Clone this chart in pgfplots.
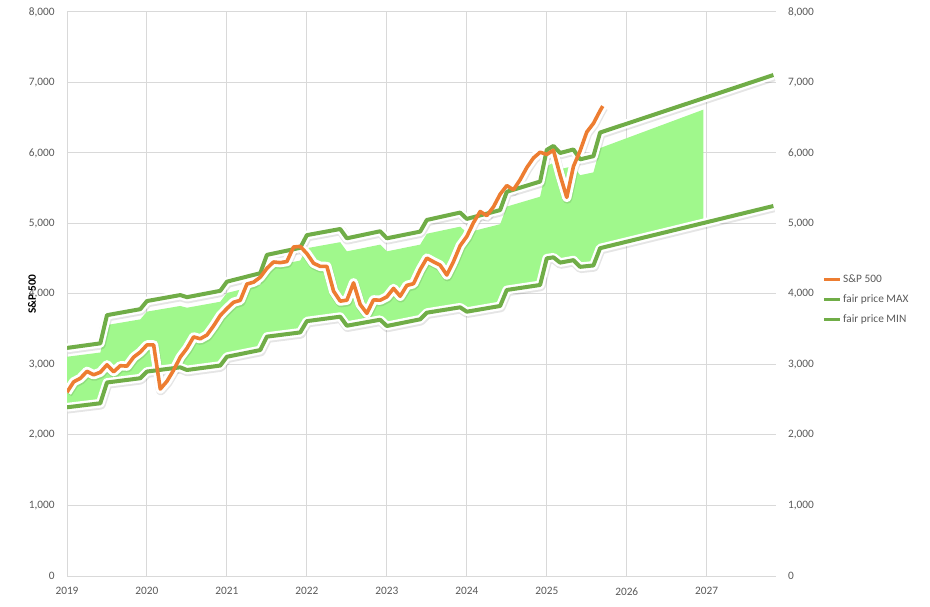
\documentclass[border=0pt]{standalone}
\usepackage{fontspec}
\setmainfont{Carlito}
\usepackage{pgfplots}
\usepackage{pgfplotstable}
\pgfplotsset{compat=1.18}
\usepgfplotslibrary{fillbetween}
\definecolor{spx}{HTML}{ED7D31}
\definecolor{fpg}{HTML}{70AD47}
\definecolor{band}{RGB}{160,248,140}
\definecolor{gridc}{HTML}{D9D9D9}
\definecolor{tickc}{HTML}{595959}

% S&P 500 monthly (month index from Jan 2019)
\pgfplotstableread{
m v
0 2607
1 2754
2 2804
3 2903
4 2854
5 2890
6 2996
7 2897
8 2983
9 2977
10 3104
11 3176
12 3278
13 3278
14 2652
15 2762
16 2920
17 3105
18 3230
19 3391
20 3365
21 3418
22 3548
23 3695
24 3794
25 3883
26 3910
27 4141
28 4168
29 4238
30 4364
31 4454
32 4445
33 4460
34 4667
35 4675
36 4573
37 4436
38 4392
39 4391
40 4041
41 3899
42 3912
43 4158
44 3851
45 3726
46 3917
47 3912
48 3960
49 4079
50 3968
51 4122
52 4146
53 4346
54 4509
55 4457
56 4409
57 4269
58 4460
59 4685
60 4816
61 5012
62 5170
63 5112
64 5236
65 5415
66 5538
67 5478
68 5621
69 5793
70 5929
71 6011
72 5980
73 6039
74 5684
75 5370
76 5810
77 6030
78 6297
79 6420
80 6600
80.4 6665
}\tspx

\pgfplotstableread{
m v
0 3235
5 3300
6 3700
11 3785
12 3900
17 3985
18 3955
23 4045
24 4175
29 4295
30 4555
35 4655
36 4835
41 4922
42 4790
47 4890
48 4790
53 4885
54 5050
59 5155
60 5065
65 5190
66 5450
71 5595
72 6045
73 6100
74 6000
76 6050
77 5910
79 5955
80 6290
106 7106
}\tmax

\pgfplotstableread{
m v
0 2393
5 2450
6 2745
11 2805
12 2900
17 2960
18 2922
23 2985
24 3110
29 3205
30 3395
35 3455
36 3615
41 3678
42 3550
47 3635
48 3546
53 3641
54 3735
59 3811
60 3749
65 3830
66 4057
71 4128
72 4506
73 4520
74 4445
76 4480
77 4385
79 4405
80 4650
106 5248
}\tmin

\pgfplotstableread{
m v
0 3110
5 3170
6 3560
11 3640
12 3750
17 3830
18 3805
23 3890
24 4015
29 4130
30 4380
35 4475
36 4650
41 4735
42 4605
47 4700
48 4605
53 4700
54 4855
59 4955
60 4870
65 4990
66 5240
71 5380
72 5810
73 5865
74 5770
76 5815
77 5685
79 5725
80 6070
95.5 6615
}\tftop

\pgfplotstableread{
m v
0 2393
5 2450
6 2745
11 2805
12 2900
17 2960
18 2922
23 2985
24 3110
29 3205
30 3395
35 3455
36 3615
41 3678
42 3550
47 3635
48 3546
53 3641
54 3735
59 3811
60 3749
65 3830
66 4057
71 4128
72 4506
73 4520
74 4445
76 4480
77 4385
79 4405
80 4650
95.5 5006
}\tfbot

\pgfplotsset{
  shadowline/.style={draw=black, draw opacity=0.10, line width=7.4pt, shift={(0.4pt,-1.0pt)}, forget plot, line join=round},
  tickfont/.style={font=\fontsize{8.5}{10}\selectfont, text=tickc},
}

\begin{document}
\begin{tikzpicture}
\begin{axis}[
  set layers,
  at={(0pt,0pt)}, anchor=south west,
  scale only axis, width=531.75pt, height=423pt,
  xmin=0, xmax=106.4, ymin=0, ymax=8000,
  axis lines=left,
  axis line style={-, draw=gridc, line width=0.75pt},
  xtick={0,12,24,36,48,60,72,84,96},
  xticklabels={2019,2020,2021,2022,2023,2024,2025,2026,2027},
  ytick={0,1000,2000,3000,4000,5000,6000,7000,8000},
  grid=major, major grid style={draw=gridc, line width=0.75pt},
  major tick length=0pt,
  tick label style={tickfont},
  /pgf/number format/1000 sep={,},
  /pgf/number format/assume math mode=true,
  xticklabel style={yshift=-5pt},
  yticklabel style={xshift=-5.7pt},
  ylabel={S\&P 500},
  ylabel style={at={(rel axis cs:-0.0494,0.5)}, anchor=center, font=\bfseries\fontsize{8.5}{10}\selectfont, text=black},
  legend cell align=left,
  legend image code/.code={\draw[#1] (0pt,0pt) -- (12pt,0pt);},
  legend style={at={(rel axis cs:1.0649,0.538)}, anchor=north west, draw=none, fill=none, inner sep=0pt, row sep=4.6pt,
    font=\fontsize{8.5}{10}\selectfont\color{tickc}, nodes={inner sep=1.5pt}},
]
\addplot[draw=none, name path=ftop, forget plot] table[x=m,y=v] {\tftop};
\addplot[draw=none, name path=fbot, forget plot] table[x=m,y=v] {\tfbot};
\addplot[fill=band, draw=none, on layer=axis background, forget plot] fill between[of=ftop and fbot];

\addplot[shadowline] table[x=m,y=v] {\tmax};
\addplot[shadowline] table[x=m,y=v] {\tmin};
\addplot[shadowline] table[x=m,y=v] {\tspx};
\addplot[draw=white, line width=6.6pt, line join=round, forget plot] table[x=m,y=v] {\tmax};
\addplot[draw=white, line width=6.6pt, line join=round, forget plot] table[x=m,y=v] {\tmin};
\addplot[draw=white, line width=7pt, line join=round, forget plot] table[x=m,y=v] {\tspx};
\addplot[draw=fpg, line width=3pt, line join=round, forget plot] table[x=m,y=v] {\tmax};
\addplot[draw=fpg, line width=3pt, line join=round, forget plot] table[x=m,y=v] {\tmin};
\addplot[draw=spx, line width=2.7pt, line join=round, forget plot] table[x=m,y=v] {\tspx};

\addlegendimage{draw=spx, line width=2.2pt}
\addlegendentry{S\&P 500}
\addlegendimage{draw=fpg, line width=2.2pt}
\addlegendentry{fair price MAX}
\addlegendimage{draw=fpg, line width=2.2pt}
\addlegendentry{fair price MIN}
\end{axis}

\begin{axis}[
  at={(0pt,0pt)}, anchor=south west,
  scale only axis, width=531.75pt, height=423pt,
  xmin=0, xmax=106.4, ymin=0, ymax=8000,
  axis x line=none, axis y line*=right,
  y axis line style={draw=none},
  ytick={0,1000,2000,3000,4000,5000,6000,7000,8000},
  major tick length=0pt,
  tick label style={tickfont},
  /pgf/number format/1000 sep={,},
  /pgf/number format/assume math mode=true,
  yticklabel style={xshift=5.5pt},
]
\addplot[draw=none] coordinates {(0,0) (1,1)};
\end{axis}
\path (-50.25pt,-22.5pt) rectangle (647.25pt,432pt);
\end{tikzpicture}
\end{document}
